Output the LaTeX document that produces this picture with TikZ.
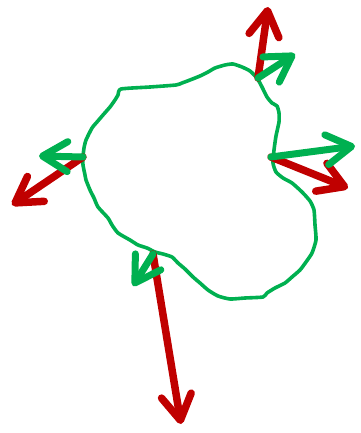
\documentclass[tikz,border=0pt]{standalone}
\usetikzlibrary{arrows.meta}
\definecolor{vred}{HTML}{C00000}
\definecolor{vgreen}{HTML}{00B050}
\tikzset{
  redvec/.style={draw=vred, line width=7.5pt, line cap=round,
    -{Straight Barb[length=25pt,width=30pt,line cap=round,line join=round]}},
  greenvec/.style={draw=vgreen, line width=7pt, line cap=round,
    -{Straight Barb[length=25pt,width=30pt,line cap=round,line join=round]}},
  outline/.style={draw=vgreen, line width=3.6pt, line join=round}
}
\begin{document}
\begin{tikzpicture}[x=1pt,y=-1pt]
\useasboundingbox (0,0) rectangle (360,433);
% blob
\draw[outline] plot[smooth cycle, tension=0.35] coordinates {
(121,89) (150,87) (176,85) (182,83) (190,80) (200,76) (208,72) (215,68) (225,65) (233,64) (242,67) (250,71) (257,78) (262,87) (267,97) (272,103) (277,106) (279,113) (279,122) (276,136) (274,150) (273,163) (276,172) (283,178) (292,183) (302,192) (310,201) (314,210) (315,225) (316,240) (312,253) (306,262) (300,270) (292,277) (285,283) (275,288) (267,293) (263,297) (245,298) (230,299) (218,296) (208,290) (200,283) (193,277) (185,269) (178,263) (172,257) (163,254) (155,252) (147,248) (138,245) (130,240) (118,233) (112,225) (108,218) (98,207) (94,198) (90,190) (86,180) (85,175) (83,165) (83,157) (84,148) (86,140) (92,128) (97,122) (103,115) (110,107) (115,100) (118,95)};
% anchor points
\coordinate (ptop) at (258,78);
\coordinate (pright) at (271,157);
\coordinate (pleft) at (83,157);
\coordinate (pbot) at (153,254);
% tips
\coordinate (rtop) at (268,7);
\coordinate (gtop) at (295,54);
\coordinate (gright) at (355,146);
\coordinate (rright) at (348,188);
\coordinate (gleft) at (39,156);
\coordinate (rleft) at (12,205);
\coordinate (gbot) at (133,286);
\coordinate (rbot) at (181,424);
% red vectors
\draw[redvec] (ptop) -- (rtop);
\draw[redvec] (pright) -- (rright);
\draw[redvec] (pleft) -- (rleft);
\draw[redvec] (pbot) -- (rbot);
% green vectors
\draw[greenvec] (ptop) -- (gtop);
\draw[greenvec] (pright) -- (gright);
\draw[greenvec] (pleft) -- (gleft);
\draw[greenvec] (pbot) -- (gbot);
\end{tikzpicture}
\end{document}
